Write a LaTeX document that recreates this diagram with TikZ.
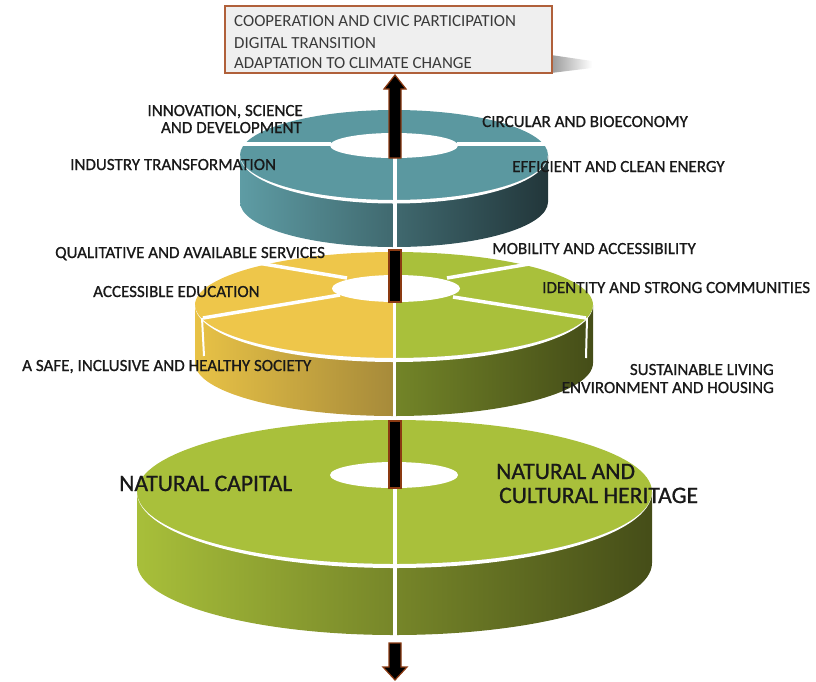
\documentclass[tikz,border=0pt]{standalone}
\usepackage{fontspec}
\setmainfont{Carlito}
\newfontfamily\ringfont{Carlito}[FakeBold=0.9]
\usepackage{tikz}
\definecolor{tealtop}{HTML}{5B98A0}
\definecolor{tealL}{HTML}{5E9CA4}
\definecolor{tealM}{HTML}{44747A}
\definecolor{tealR}{HTML}{22363A}
\definecolor{yellowtop}{HTML}{EEC64A}
\definecolor{yellowL}{HTML}{E8C246}
\definecolor{yellowR}{HTML}{A68A3A}
\definecolor{greentop}{HTML}{A9C03B}
\definecolor{greenL}{HTML}{738528}
\definecolor{greenR}{HTML}{454D18}
\definecolor{bigL}{HTML}{A8BF3A}
\definecolor{bigM}{HTML}{7E8E2C}
\definecolor{bigR}{HTML}{454D18}
\definecolor{arrowbrown}{HTML}{8B3A12}
\definecolor{boxedge}{HTML}{B0603A}
\definecolor{boxfill}{HTML}{EFEFEF}
\definecolor{boxtext}{HTML}{3A3A3A}
\tikzstyle{ring text}=[font=\ringfont\fontsize{17}{19}\selectfont, text=black!90, inner sep=0pt, anchor=base west]
\tikzstyle{ring text east}=[ring text, anchor=base east]
\tikzstyle{big text}=[ring text, font=\ringfont\fontsize{23.6}{26}\selectfont]
\tikzstyle{box text}=[ring text, font=\fontsize{16.9}{19}\selectfont, text=boxtext]
\tikzstyle{divider}=[draw=white, line width=3.5pt]
\tikzstyle{thin divider}=[draw=white, line width=2pt]
\tikzstyle{shaft}=[fill=black, draw=arrowbrown, line width=1.2pt, line join=miter]

\begin{document}
\begin{tikzpicture}[x=1pt, y=-1pt]
    \useasboundingbox (0,0) rectangle (816,681);

    % --- lower ring: natural capital / heritage
    \shade[left color=bigL, middle color=bigM, right color=bigR]
        (137,492) -- (137,563) arc[start angle=180, end angle=360, x radius=257.5pt, y radius=72pt]
        -- (652,492) arc[start angle=0, end angle=-180, x radius=257.5pt, y radius=72pt] -- cycle;
    \fill[greentop] (394.5,492) ellipse[x radius=257.5pt, y radius=72pt];
    \fill[white] (652,492) arc[start angle=0, end angle=-180, x radius=257.5pt, y radius=72pt]
        arc[start angle=180, end angle=360, x radius=257.5pt, y radius=76pt] -- cycle;
    \fill[white] (394,475) ellipse[x radius=64pt, y radius=13pt];
    \draw[divider] (395,488) -- (395,636);

    % --- middle ring: society (left) and community (right)
    \shade[left color=yellowL, right color=yellowR]
        (195,305) -- (195,363) arc[start angle=180, end angle=270, x radius=199pt, y radius=53pt]
        -- (394,358) arc[start angle=-90, end angle=-180, x radius=199pt, y radius=53pt] -- cycle;
    \shade[left color=greenL, right color=greenR]
        (394,358) -- (394,416) arc[start angle=270, end angle=360, x radius=199pt, y radius=53pt]
        -- (593,305) arc[start angle=0, end angle=-90, x radius=199pt, y radius=53pt] -- cycle;
    \fill[yellowtop] (394,252) arc[start angle=90, end angle=270, x radius=199pt, y radius=53pt] -- cycle;
    \fill[greentop] (394,358) arc[start angle=-90, end angle=90, x radius=199pt, y radius=53pt] -- cycle;
    \fill[white] (593,305) arc[start angle=0, end angle=-180, x radius=199pt, y radius=53pt]
        arc[start angle=180, end angle=360, x radius=199pt, y radius=57pt] -- cycle;
    \fill[white] (396,288.5) ellipse[x radius=64pt, y radius=13.5pt];
    \draw[divider] (252,262) -- (347,278);
    \draw[divider] (203,318) -- (340,295);
    \draw[divider] (535,263) -- (447,278);
    \draw[divider] (586,318) -- (453,297);
    \draw[divider] (394.5,302) -- (394.5,417);
    \draw[thin divider] (202,318) -- (204,356);
    \draw[thin divider] (587,318) -- (586,358);

    % --- upper ring: economy
    \shade[left color=tealL, middle color=tealM, right color=tealR]
        (240,155) -- (240,202) arc[start angle=180, end angle=360, x radius=154pt, y radius=45pt]
        -- (548,155) arc[start angle=0, end angle=-180, x radius=154pt, y radius=45pt] -- cycle;
    \fill[tealtop] (394,155) ellipse[x radius=154pt, y radius=45pt];
    \fill[white] (548,155) arc[start angle=0, end angle=-180, x radius=154pt, y radius=45pt]
        arc[start angle=180, end angle=360, x radius=154pt, y radius=48.5pt] -- cycle;
    \fill[white] (394,145.5) ellipse[x radius=64pt, y radius=12.5pt];
    \draw[divider] (243,144) -- (331,144);
    \draw[divider] (457,144) -- (546,144);
    \draw[divider] (395,158) -- (395,248);

    % --- axis arrow, seen between the rings
    \filldraw[shaft] (389,158) -- (389,89) -- (384,89) -- (395,75) -- (406,89) -- (401,89) -- (401,158) -- cycle;
    \filldraw[shaft] (389,250) rectangle (401,302);
    \filldraw[shaft] (389,421) rectangle (401,488);
    \filldraw[shaft] (389,643) -- (389,667) -- (383,667) -- (395,680) -- (407,667) -- (401,667) -- (401,643) -- cycle;

    % --- horizontal goals box
    \shade[left color=black!40, right color=white] (551,55) -- (592,61) -- (592,68) -- (551,73) -- cycle;
    \node[draw=boxedge, fill=boxfill, line width=1.5pt, minimum width=327pt, minimum height=67pt,
          inner sep=0pt, anchor=north west] (goals) at (224,5) {};
    \node[box text] (coop) at (234,26) {COOPERATION AND CIVIC PARTICIPATION};
    \node[box text] (digital) at (234,48) {DIGITAL TRANSITION};
    \node[box text] (climate) at (234,68) {ADAPTATION TO CLIMATE CHANGE};

    % --- ring labels
    \node[ring text east] (innov) at (303,116) {INNOVATION, SCIENCE};
    \node[ring text east] (innov2) at (302,133) {AND DEVELOPMENT};
    \node[ring text] (industry) at (70,170) {INDUSTRY TRANSFORMATION};
    \node[ring text] (circular) at (482,127) {CIRCULAR AND BIOECONOMY};
    \node[ring text] (energy) at (512,172) {EFFICIENT AND CLEAN ENERGY};

    \node[ring text] (services) at (55,258) {QUALITATIVE AND AVAILABLE SERVICES};
    \node[ring text] (education) at (93,297) {ACCESSIBLE EDUCATION};
    \node[ring text] (society) at (22,371) {A SAFE, INCLUSIVE AND HEALTHY SOCIETY};
    \node[ring text] (mobility) at (492,254) {MOBILITY AND ACCESSIBILITY};
    \node[ring text] (identity) at (542,293) {IDENTITY AND STRONG COMMUNITIES};
    \node[ring text east] (living) at (774,375) {SUSTAINABLE LIVING};
    \node[ring text east] (living2) at (774,393) {ENVIRONMENT AND HOUSING};

    \node[big text] (capital) at (119,491) {NATURAL CAPITAL};
    \node[big text] (heritage) at (496,479) {NATURAL AND};
    \node[big text] (heritage2) at (499,503) {CULTURAL HERITAGE};
\end{tikzpicture}
\end{document}
